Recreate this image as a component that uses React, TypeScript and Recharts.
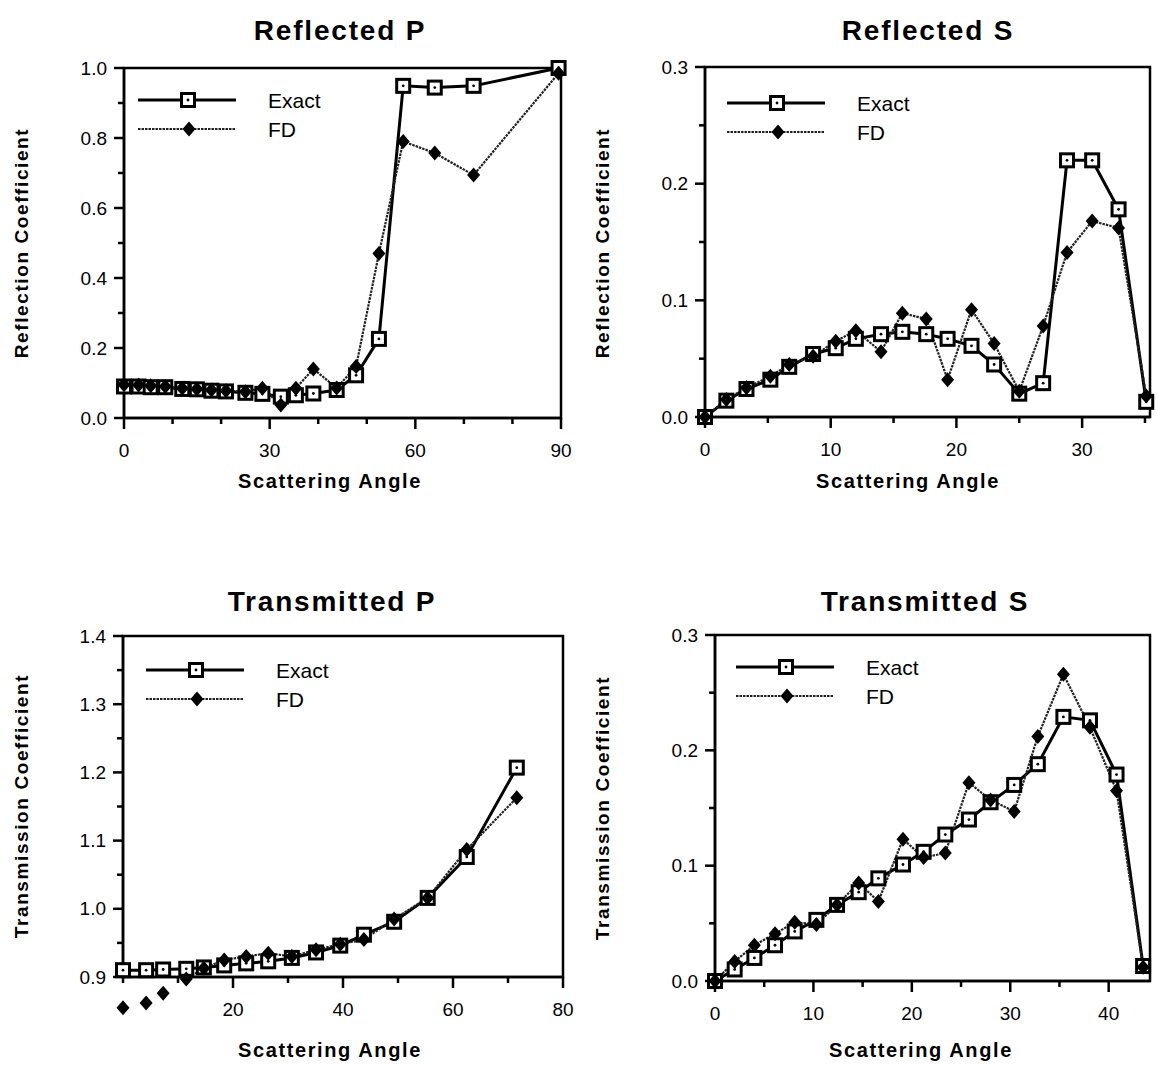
import React from 'react';
import { LineChart, Line, XAxis, YAxis, Legend, ReferenceArea } from 'recharts';

const FONT = '"Liberation Sans", Arial, Helvetica, sans-serif';

// Reflected P
const rpAngle = [0, 3, 5.5, 8.5, 12, 15, 18, 21, 25, 28.5, 32.3, 35.4, 39, 43.8, 47.8, 52.5, 57.5, 64, 72, 89.5];
const rpExact = [0.09, 0.09, 0.088, 0.088, 0.083, 0.082, 0.078, 0.076, 0.072, 0.069, 0.061, 0.065, 0.07, 0.08, 0.122, 0.226, 0.949, 0.944, 0.949, 1.0];
const rpFD = [0.095, 0.094, 0.092, 0.09, 0.085, 0.083, 0.08, 0.078, 0.075, 0.085, 0.037, 0.085, 0.14, 0.086, 0.147, 0.47, 0.79, 0.757, 0.694, 0.985];

// Reflected S
const rsAngle = [0, 1.7, 3.3, 5.2, 6.7, 8.6, 10.4, 12.0, 14.0, 15.7, 17.6, 19.3, 21.2, 23.0, 25.0, 26.9, 28.8, 30.8, 32.9, 35.1];
const rsExact = [0, 0.014, 0.024, 0.032, 0.043, 0.054, 0.059, 0.067, 0.071, 0.073, 0.071, 0.067, 0.061, 0.045, 0.02, 0.029, 0.22, 0.22, 0.178, 0.013];
const rsFD = [0, 0.015, 0.025, 0.035, 0.045, 0.052, 0.065, 0.074, 0.056, 0.089, 0.084, 0.032, 0.092, 0.063, 0.022, 0.078, 0.141, 0.168, 0.162, 0.018];

// Transmitted P
const tpAngle = [0, 4.2, 7.3, 11.5, 14.7, 18.4, 22.4, 26.4, 30.7, 35.1, 39.5, 43.8, 49.3, 55.4, 62.5, 71.6];
const tpExact = [0.91, 0.91, 0.911, 0.912, 0.914, 0.917, 0.92, 0.923, 0.928, 0.936, 0.946, 0.962, 0.981, 1.016, 1.076, 1.207];
const tpFD = [0.855, 0.862, 0.876, 0.897, 0.913, 0.925, 0.93, 0.935, 0.93, 0.94, 0.948, 0.955, 0.985, 1.016, 1.087, 1.163];

// Transmitted S
const tsAngle = [0, 2, 4, 6.1, 8.1, 10.3, 12.4, 14.6, 16.6, 19.1, 21.2, 23.4, 25.8, 28, 30.4, 32.8, 35.4, 38.1, 40.8, 43.5];
const tsExact = [0, 0.01, 0.02, 0.031, 0.043, 0.053, 0.066, 0.077, 0.089, 0.101, 0.112, 0.127, 0.14, 0.155, 0.17, 0.188, 0.229, 0.226, 0.179, 0.013];
const tsFD = [0, 0.017, 0.031, 0.041, 0.051, 0.049, 0.066, 0.085, 0.069, 0.123, 0.107, 0.111, 0.172, 0.157, 0.147, 0.212, 0.266, 0.22, 0.165, 0.012];

// ticks
const rpXTicks = [0, 10, 20, 30, 40, 50, 60, 70, 80, 90];
const rpXLabels = [0, 30, 60, 90];
const rpYTicks = [0, 0.1, 0.2, 0.3, 0.4, 0.5, 0.6, 0.7, 0.8, 0.9, 1.0];
const rpYLabels = [0, 0.2, 0.4, 0.6, 0.8, 1.0];

const rsXTicks = [0, 5, 10, 15, 20, 25, 30, 35];
const rsXLabels = [0, 10, 20, 30];
const sYTicks = [0, 0.05, 0.1, 0.15, 0.2, 0.25, 0.3];
const sYLabels = [0, 0.1, 0.2, 0.3];

const tpXTicks = [0, 10, 20, 30, 40, 50, 60, 70, 80];
const tpXLabels = [20, 40, 60, 80];
const tpYTicks = [0.9, 0.95, 1.0, 1.05, 1.1, 1.15, 1.2, 1.25, 1.3, 1.35, 1.4];
const tpYLabels = [0.9, 1.0, 1.1, 1.2, 1.3, 1.4];

const tsXTicks = [0, 5, 10, 15, 20, 25, 30, 35, 40];
const tsXLabels = [0, 10, 20, 30, 40];

const rows = (angle: number[], exact: number[], fd: number[]) =>
  angle.map((a, i) => ({ angle: a, exact: exact[i], fd: fd[i] }));

const has = (list: number[], v: number) => list.some((l) => Math.abs(l - v) < 1e-9);

function XTick(props: any) {
  const { x, y, payload, labels } = props;
  const major = has(labels, payload.value);
  return (
    <g>
      <line x1={x} y1={y} x2={x} y2={y + (major ? 11 : 6)} stroke="#000" strokeWidth={2.5} />
      {major && (
        <text x={x} y={y + 32} textAnchor="middle" dominantBaseline="central" fontSize={19} fontFamily={FONT} fill="#000">
          {String(payload.value)}
        </text>
      )}
    </g>
  );
}

function YTick(props: any) {
  const { x, y, payload, labels } = props;
  const major = has(labels, payload.value);
  return (
    <g>
      <line x1={x} y1={y} x2={x - (major ? 10 : 6)} y2={y} stroke="#000" strokeWidth={2.5} />
      {major && (
        <text x={x - 17} y={y} textAnchor="end" dominantBaseline="central" fontSize={19} fontFamily={FONT} fill="#000">
          {payload.value.toFixed(1)}
        </text>
      )}
    </g>
  );
}

const squareDot = (p: any) => {
  const { cx, cy, index } = p;
  if (cx == null || cy == null) return <g key={`s${index}`} />;
  return (
    <g key={`s${index}`}>
      <rect x={cx - 6.5} y={cy - 6.5} width={13} height={13} fill="#fff" stroke="#000" strokeWidth={3} />
      <circle cx={cx} cy={cy} r={1.4} fill="#000" />
    </g>
  );
};

const diamondDot = (p: any) => {
  const { cx, cy, index } = p;
  if (cx == null || cy == null) return <g key={`d${index}`} />;
  return <path key={`d${index}`} d={`M${cx},${cy - 7.5}L${cx + 6.5},${cy}L${cx},${cy + 7.5}L${cx - 6.5},${cy}Z`} fill="#000" />;
};

function LegendBox(props: any) {
  const items = props.payload || [];
  return (
    <svg width={240} height={60} style={{ overflow: 'visible', display: 'block' }}>
      {items.map((it: any, i: number) => {
        const y = 12 + i * 29;
        const exact = it.dataKey === 'exact';
        return (
          <g key={it.value}>
            <line x1={0} y1={y} x2={98} y2={y} stroke={exact ? '#000' : '#222'} strokeWidth={exact ? 3 : 2.2} strokeDasharray={exact ? undefined : '2.5 1'} />
            {exact ? squareDot({ cx: 50, cy: y, index: 99 }) : diamondDot({ cx: 51, cy: y, index: 99 })}
            <text x={130} y={y} dominantBaseline="central" fontSize={21} fontFamily={FONT} fill="#000">
              {it.value}
            </text>
          </g>
        );
      })}
    </svg>
  );
}

type PanelProps = {
  id: string;
  left: number;
  top: number;
  width: number;
  height: number;
  box: { l: number; t: number; r: number; b: number };
  data: { angle: number; exact: number; fd: number }[];
  xDomain: [number, number];
  yDomain: [number, number];
  xTicks: number[];
  xLabels: number[];
  yTicks: number[];
  yLabels: number[];
  legend: { x: number; y: number };
  overflow?: boolean;
};

function Panel(p: PanelProps) {
  const margin = { top: p.box.t - p.top, right: p.left + p.width - p.box.r, bottom: 0, left: 0 };
  return (
    <div className={p.id} style={{ position: 'absolute', left: p.left, top: p.top, width: p.width, height: p.height }}>
      <LineChart width={p.width} height={p.height} data={p.data} margin={margin}>
        <XAxis
          type="number"
          dataKey="angle"
          domain={p.xDomain}
          ticks={p.xTicks}
          interval={0}
          height={p.top + p.height - p.box.b}
          tickSize={0}
          tickMargin={0}
          tickLine={false}
          axisLine={{ stroke: '#000', strokeWidth: 2.5 }}
          tick={(t: any) => <XTick {...t} labels={p.xLabels} />}
        />
        <YAxis
          type="number"
          domain={p.yDomain}
          ticks={p.yTicks}
          interval={0}
          allowDataOverflow={!!p.overflow}
          width={p.box.l - p.left}
          tickSize={0}
          tickMargin={0}
          tickLine={false}
          axisLine={{ stroke: '#000', strokeWidth: 2.5 }}
          tick={(t: any) => <YTick {...t} labels={p.yLabels} />}
        />
        <ReferenceArea x1={p.xDomain[0]} x2={p.xDomain[1]} y1={p.yDomain[0]} y2={p.yDomain[1]} fill="none" stroke="#000" strokeWidth={2.5} />
        <Line dataKey="exact" name="Exact" stroke="#000" strokeWidth={3} dot={squareDot} isAnimationActive={false} />
        <Line dataKey="fd" name="FD" stroke="#222" strokeWidth={2.2} strokeDasharray="2.5 1" dot={diamondDot} isAnimationActive={false} />
        <Legend
          layout="horizontal"
          verticalAlign="middle"
          align="center"
          content={(lp: any) => <LegendBox {...lp} />}
          wrapperStyle={{ left: p.legend.x - p.left, top: p.legend.y - p.top, width: 240 }}
        />
      </LineChart>
    </div>
  );
}

const textBase: React.CSSProperties = {
  position: 'absolute',
  fontFamily: FONT,
  fontWeight: 'bold',
  color: '#000',
  whiteSpace: 'nowrap',
};

function Caption({ x, y, size, rotate, children }: { x: number; y: number; size: number; rotate?: boolean; children: React.ReactNode }) {
  return (
    <div
      style={{
        ...textBase,
        left: x,
        top: y,
        fontSize: size,
        letterSpacing: size > 22 ? 1.8 : 1.6,
        transform: `translate(-50%, -50%)${rotate ? ' rotate(-90deg)' : ''}`,
      }}
    >
      {children}
    </div>
  );
}

export default function App() {
  return (
    <div style={{ position: 'absolute', left: 0, top: 0, width: 1156, height: 1067, background: '#fff', overflow: 'hidden' }}>
      <style>{'.tp .recharts-line, .tp .recharts-line-dots, .tp g[clip-path] { clip-path: none !important; }'}</style>
      <Panel
        id="rp"
        left={0}
        top={0}
        width={578}
        height={530}
        box={{ l: 124, t: 68, r: 561, b: 418 }}
        data={rows(rpAngle, rpExact, rpFD)}
        xDomain={[0, 90]}
        yDomain={[0, 1]}
        xTicks={rpXTicks}
        xLabels={rpXLabels}
        yTicks={rpYTicks}
        yLabels={rpYLabels}
        legend={{ x: 138, y: 88 }}
      />
      <Panel
        id="rs"
        left={578}
        top={0}
        width={578}
        height={530}
        box={{ l: 705, t: 67, r: 1150, b: 417 }}
        data={rows(rsAngle, rsExact, rsFD)}
        xDomain={[0, 35.4]}
        yDomain={[0, 0.3]}
        xTicks={rsXTicks}
        xLabels={rsXLabels}
        yTicks={sYTicks}
        yLabels={sYLabels}
        legend={{ x: 727, y: 91 }}
      />
      <Panel
        id="tp"
        left={0}
        top={540}
        width={578}
        height={527}
        box={{ l: 123, t: 636, r: 563, b: 977 }}
        data={rows(tpAngle, tpExact, tpFD)}
        xDomain={[0, 80]}
        yDomain={[0.9, 1.4]}
        xTicks={tpXTicks}
        xLabels={tpXLabels}
        yTicks={tpYTicks}
        yLabels={tpYLabels}
        legend={{ x: 146, y: 658 }}
        overflow
      />
      <Panel
        id="ts"
        left={578}
        top={540}
        width={578}
        height={527}
        box={{ l: 715, t: 635, r: 1150, b: 981 }}
        data={rows(tsAngle, tsExact, tsFD)}
        xDomain={[0, 44.2]}
        yDomain={[0, 0.3]}
        xTicks={tsXTicks}
        xLabels={tsXLabels}
        yTicks={sYTicks}
        yLabels={sYLabels}
        legend={{ x: 736, y: 655 }}
      />

      <Caption x={340} y={31} size={28}>Reflected P</Caption>
      <Caption x={928} y={31} size={28}>Reflected S</Caption>
      <Caption x={332} y={602} size={28}>Transmitted P</Caption>
      <Caption x={925} y={602} size={28}>Transmitted S</Caption>

      <Caption x={330} y={481} size={20}>Scattering Angle</Caption>
      <Caption x={908} y={481} size={20}>Scattering Angle</Caption>
      <Caption x={330} y={1050} size={20}>Scattering Angle</Caption>
      <Caption x={921} y={1050} size={20}>Scattering Angle</Caption>

      <Caption x={22} y={806} size={19} rotate>Transmission Coefficient</Caption>
      <Caption x={22} y={243} size={19} rotate>Reflection Coefficient</Caption>
      <Caption x={603} y={243} size={19} rotate>Reflection Coefficient</Caption>
      <Caption x={603} y={808} size={19} rotate>Transmission Coefficient</Caption>
    </div>
  );
}
